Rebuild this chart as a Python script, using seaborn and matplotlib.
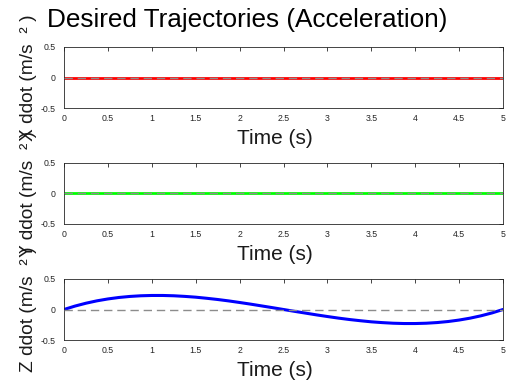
import numpy as np
import pandas as pd
import matplotlib
matplotlib.use("Agg")
import matplotlib.pyplot as plt
import seaborn as sns

# ---- data ----
time_s = [0.0, 0.125, 0.25, 0.375, 0.5, 0.625, 0.75, 0.875, 1.0, 1.125, 1.25,
          1.375, 1.5, 1.625, 1.75, 1.875, 2.0, 2.125, 2.25, 2.375, 2.5,
          2.625, 2.75, 2.875, 3.0, 3.125, 3.25, 3.375, 3.5, 3.625, 3.75,
          3.875, 4.0, 4.125, 4.25, 4.375, 4.5, 4.625, 4.75, 4.875, 5.0]
x_acc = [0.0] * 41
y_acc = [0.0] * 41
z_acc = [0.0, 0.056, 0.103, 0.142, 0.173, 0.197, 0.214, 0.225, 0.230, 0.230, 0.225,
         0.215, 0.202, 0.184, 0.164, 0.141, 0.115, 0.088, 0.059, 0.030, 0.0,
         -0.030, -0.059, -0.088, -0.115, -0.141, -0.164, -0.184, -0.202, -0.215, -0.225,
         -0.230, -0.230, -0.225, -0.214, -0.197, -0.173, -0.142, -0.103, -0.056, 0.0]
ref_t = [0.0, 5.0]
ref_v = [0.0, 0.0]
ylabels = ["X ddot (m/s  \u00b2 )", "Y ddot (m/s  \u00b2 )", "Z ddot (m/s  \u00b2 )"]
xlabel = "Time (s)"
title = "Desired Trajectories (Acceleration)"
xticks = [0, 0.5, 1, 1.5, 2, 2.5, 3, 3.5, 4, 4.5, 5]
xticklabels = ["0", "0.5", "1", "1.5", "2", "2.5", "3", "3.5", "4", "4.5", "5"]
yticks = [-0.5, 0, 0.5]
yticklabels = ["-0.5", "0", "0.5"]

sns.set_style("white")
plt.rcParams['font.family'] = ['Liberation Sans', 'DejaVu Sans']

W, H = 507, 388
fig = plt.figure(figsize=(W / 100, H / 100), dpi=100)

series = [x_acc, y_acc, z_acc]
colors = ["#ff0000", "#00ff00", "#0000ff"]
widths = [2.0, 2.0, 2.2]
tops = [47, 163, 279]
ax_h = 61
left_px, right_px = 64, 503
ax_w = right_px - left_px

for i in range(3):
    b = 1 - (tops[i] + ax_h) / H
    ax = fig.add_axes([left_px / W, b, ax_w / W, ax_h / H])
    df = pd.DataFrame({"t": time_s, "v": series[i]})
    sns.lineplot(data=df, x="t", y="v", ax=ax, color=colors[i], lw=widths[i], zorder=2)
    rdf = pd.DataFrame({"t": ref_t, "v": ref_v})
    sns.lineplot(data=rdf, x="t", y="v", ax=ax, color="#8c8c8c", lw=1.0,
                 linestyle=(0, (6, 3.5)), zorder=3)
    ax.set_xlim(0, 5)
    ax.set_ylim(-0.5, 0.5)
    ax.set_xticks(xticks)
    ax.set_xticklabels(xticklabels)
    ax.set_yticks(yticks)
    ax.set_yticklabels(yticklabels)
    ax.tick_params(direction="in", length=3, width=0.6, labelsize=6.3,
                   colors="#262626", top=True, right=True, pad=4)
    ax.tick_params(axis="y", pad=6)
    for s in ax.spines.values():
        s.set_color("#262626")
        s.set_linewidth(0.6)
    ax.set_xlabel(xlabel, fontsize=15, color="#1a1a1a")
    ax.set_ylabel(ylabels[i], fontsize=13.8, color="#1a1a1a")
    ax.yaxis.set_label_coords((37 - left_px) / ax_w, 0.5)
    ax.xaxis.set_label_coords((275 - left_px) / ax_w, -0.34)
    ax.xaxis.label.set_va("top")

fig.text(47 / W, 1 - 27 / H, title, fontsize=18.8, color="#000000",
         ha="left", va="baseline")

fig.savefig("out.png", dpi=100)
